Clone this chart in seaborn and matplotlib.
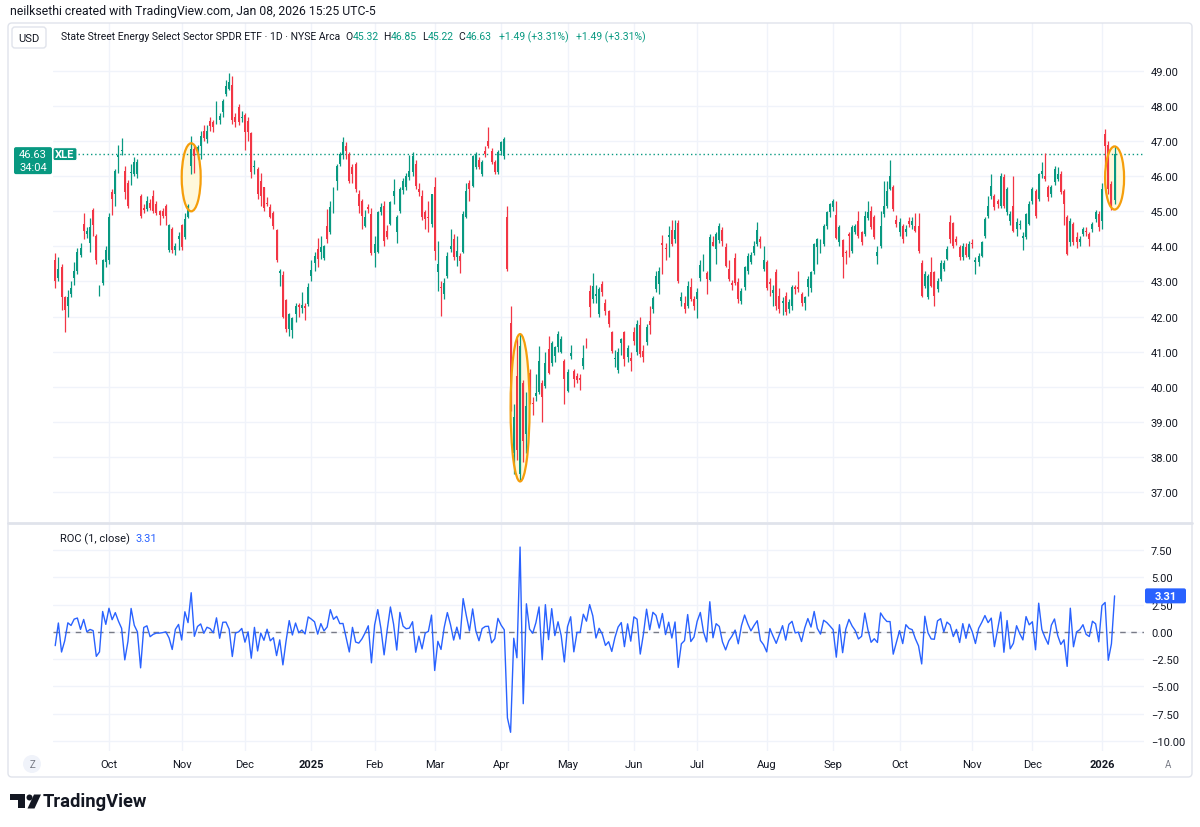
import numpy as np
import pandas as pd
import seaborn as sns
import matplotlib.pyplot as plt
from matplotlib.patches import Ellipse, FancyBboxPatch, Circle, Polygon
from matplotlib.lines import Line2D
from matplotlib.transforms import Affine2D
from matplotlib.ticker import FuncFormatter

# daily candles, XLE, Sep 6 2024 - Jan 8 2026 (NYSE sessions)
start, end = '2024-09-06', '2026-01-08'
holidays = ['2024-11-28', '2024-12-25', '2025-01-01', '2025-01-09', '2025-01-20',
            '2025-02-17', '2025-04-18', '2025-05-26', '2025-06-19', '2025-07-04',
            '2025-09-01', '2025-11-27', '2025-12-25', '2026-01-01']
prev_close = 43.55

opens = [
    43.6, 43.1, 43.4, 42.55, 42.3, 42.65, 43.1, 43.3, 43.75, 44.65,
    44.35, 44.1, 45.05, 44.3, 42.75, 42.95, 43.55, 43.6, 45.55, 45.5,
    46.55, 46.72, 46.15, 45.8, 46.1, 46.05, 46.05, 45.45, 45.1, 45.08,
    45.25, 45.45, 45.2, 45.0, 45.0, 45.15, 43.9, 44.5, 43.9, 44.2,
    44.6, 44.26, 44.85, 46.3, 46.78, 46.6, 46.85, 47.3, 47.05, 47.58,
    47.55, 47.73, 47.6, 47.82, 48.34, 48.5, 48.6, 47.7, 47.96, 47.65,
    47.75, 47.58, 47.23, 46.25, 46.2, 45.87, 45.68, 45.25, 45.12, 44.95,
    44.47, 43.25, 43.18, 42.48, 41.64, 41.62, 42.07, 42.33, 42.25, 42.3,
    42.36, 43.17, 43.54, 43.92, 43.85, 43.68, 44.59, 44.4, 45.02, 45.87,
    46.35, 46.61, 46.85, 46.63, 46.25, 46.35, 45.49, 45.3, 44.59, 45.12,
    44.92, 43.8, 43.83, 44.97, 45.16, 44.45, 44.64, 45.44, 44.42, 45.0,
    45.62, 45.68, 45.97, 46.11, 46.35, 45.63, 45.44, 44.97, 44.85, 44.64,
    45.68, 43.27, 42.85, 42.64, 43.16, 43.93, 44.21, 43.69, 43.73, 43.83,
    44.83, 45.82, 45.73, 46.26, 46.45, 46.07, 46.73, 47.01, 46.73, 46.4,
    46.11, 46.73, 46.59, 44.83, 41.83, 38.12, 40.3, 37.5, 40.1, 38.65,
    40.4, 39.55, 39.74, 39.84, 40.12, 40.02, 41.07, 40.69, 40.88, 41.12,
    41.0, 40.74, 39.89, 40.88, 40.45, 40.3, 40.25, 40.59, 41.3, 42.74,
    42.5, 42.6, 42.07, 42.92, 42.4, 42.16, 41.55, 40.8, 40.48, 41.26,
    41.55, 40.84, 40.82, 41.55, 40.99, 41.76, 41.03, 41.28, 41.88, 42.21,
    42.78, 42.93, 44.11, 43.95, 44.26, 44.47, 44.2, 44.68, 42.45, 42.4,
    42.3, 42.83, 42.5, 42.5, 43.09, 43.35, 43.23, 43.05, 44.13, 43.93,
    44.19, 44.47, 43.97, 43.37, 42.95, 43.66, 42.99, 42.45, 42.83, 43.3,
    43.55, 43.8, 44.07, 44.21, 43.35, 43.56, 42.99, 42.67, 43.26, 42.59,
    42.4, 42.6, 42.21, 42.31, 42.83, 42.83, 42.64, 42.4, 42.83, 42.8,
    43.3, 43.97, 44.02, 44.07, 44.59, 44.97, 45.11, 44.89, 44.12, 44.18,
    43.83, 44.35, 43.88, 44.4, 44.73, 44.4, 44.35, 44.8, 45.02, 44.83,
    43.74, 44.0, 44.92, 45.16, 45.64, 45.68, 44.76, 44.42, 44.59, 44.42,
    44.73, 44.6, 44.59, 44.59, 43.54, 42.88, 42.55, 43.26, 43.26, 42.78,
    43.07, 43.35, 43.64, 44.69, 44.66, 44.21, 43.97, 43.69, 43.97, 43.69,
    44.11, 43.55, 43.56, 43.74, 44.3, 44.88, 45.44, 45.44, 45.3, 45.16,
    45.97, 44.97, 44.73, 45.16, 44.5, 44.6, 44.23, 44.26, 44.64, 45.3,
    45.59, 45.35, 46.07, 46.02, 45.68, 45.49, 45.83, 45.92, 46.07, 45.59,
    44.83, 44.12, 44.64, 44.26, 44.12, 44.35, 44.45, 44.35, 44.5, 44.78,
    44.92, 44.73, 47.2, 46.9, 45.78, 45.32,
]
highs = [
    43.8, 43.7, 43.5, 42.6, 42.75, 43.0, 43.55, 43.95, 44.1, 44.95,
    44.55, 44.8, 45.1, 44.35, 42.9, 43.65, 44.0, 44.95, 45.65, 46.2,
    46.9, 47.1, 46.3, 45.9, 46.35, 46.55, 46.5, 45.5, 45.2, 45.45,
    45.35, 45.6, 45.3, 45.05, 45.1, 45.2, 44.65, 44.55, 44.1, 44.4,
    44.65, 44.95, 45.2, 47.14, 46.9, 46.9, 47.3, 47.45, 47.45, 47.7,
    47.6, 48.15, 47.8, 48.2, 48.75, 48.95, 48.85, 47.8, 48.05, 47.85,
    47.8, 47.7, 47.25, 46.45, 46.25, 46.1, 45.7, 45.4, 45.2, 45.0,
    44.5, 43.35, 43.3, 42.5, 42.1, 42.0, 42.4, 42.4, 42.7, 42.4,
    42.97, 43.6, 43.85, 44.25, 44.3, 44.05, 45.06, 45.3, 45.7, 46.35,
    46.7, 47.12, 46.98, 46.7, 46.35, 46.4, 45.6, 45.35, 45.05, 45.2,
    45.1, 44.3, 45.0, 45.25, 45.3, 44.6, 45.3, 45.92, 44.9, 45.7,
    45.95, 46.1, 46.6, 46.68, 46.45, 45.8, 45.6, 45.05, 45.3, 45.5,
    45.97, 44.16, 43.0, 43.1, 43.85, 44.5, 44.36, 44.29, 43.8, 45.0,
    45.8, 45.9, 46.6, 46.7, 46.55, 46.45, 46.85, 47.4, 46.8, 46.45,
    46.75, 47.0, 47.12, 45.16, 42.3, 39.5, 41.4, 41.5, 40.2, 39.85,
    40.5, 39.7, 40.35, 41.15, 40.2, 41.0, 41.45, 41.3, 41.15, 41.6,
    41.45, 40.8, 40.5, 41.2, 40.5, 40.4, 40.35, 41.2, 41.4, 42.9,
    43.25, 42.9, 42.85, 43.0, 42.5, 42.2, 41.6, 41.05, 41.1, 41.4,
    41.6, 41.2, 41.0, 41.7, 41.9, 42.0, 41.2, 41.8, 42.3, 42.6,
    43.3, 43.4, 44.33, 44.1, 44.57, 44.75, 44.75, 44.75, 42.7, 42.6,
    43.0, 43.1, 42.6, 42.8, 43.6, 43.78, 43.3, 44.35, 44.3, 44.4,
    44.68, 44.55, 44.1, 43.6, 43.05, 43.8, 43.1, 42.8, 43.45, 43.8,
    43.85, 44.15, 44.7, 44.3, 44.0, 43.6, 43.1, 42.9, 43.35, 42.8,
    42.55, 42.7, 42.5, 42.9, 42.9, 43.3, 42.7, 42.6, 43.15, 43.3,
    44.1, 44.25, 44.2, 44.65, 45.0, 45.25, 45.35, 45.3, 44.6, 44.2,
    43.9, 44.4, 44.6, 44.65, 45.0, 44.45, 45.0, 45.3, 45.15, 44.9,
    44.0, 45.0, 45.85, 45.85, 46.45, 45.75, 44.9, 44.8, 44.65, 44.6,
    44.85, 44.85, 44.95, 44.95, 43.6, 43.3, 43.2, 43.7, 43.3, 43.1,
    43.6, 43.6, 44.0, 44.9, 44.7, 44.3, 44.05, 44.1, 44.1, 44.15,
    44.2, 43.7, 43.8, 44.15, 44.85, 45.45, 46.05, 45.5, 45.35, 46.1,
    46.05, 45.7, 45.0, 46.0, 44.8, 44.75, 44.4, 44.95, 45.3, 45.7,
    45.65, 46.1, 46.4, 46.65, 45.75, 45.75, 46.3, 46.25, 46.15, 45.65,
    44.9, 44.8, 44.7, 44.4, 44.3, 44.55, 44.55, 44.4, 44.7, 45.05,
    45.0, 45.8, 47.35, 47.0, 45.85, 46.85,
]
lows = [
    42.8, 43.0, 42.2, 41.55, 42.0, 42.55, 42.9, 43.2, 43.7, 44.2,
    44.25, 43.85, 44.3, 43.5, 42.6, 42.9, 43.4, 43.5, 44.9, 45.15,
    46.1, 46.6, 45.35, 45.1, 45.75, 46.0, 45.95, 44.8, 44.95, 45.0,
    45.05, 44.95, 44.9, 44.62, 44.8, 44.6, 43.85, 43.8, 43.75, 43.9,
    43.9, 44.2, 44.8, 46.06, 46.1, 46.5, 46.5, 47.0, 46.95, 47.3,
    47.25, 47.5, 47.5, 47.7, 48.3, 48.45, 47.5, 47.4, 47.45, 47.55,
    46.75, 47.0, 45.95, 46.05, 45.35, 45.15, 45.0, 45.15, 44.8, 44.5,
    43.55, 42.86, 41.95, 41.55, 41.45, 41.38, 41.85, 42.0, 42.1, 41.9,
    42.3, 43.0, 43.3, 43.4, 43.65, 43.6, 44.1, 44.35, 44.95, 45.62,
    46.3, 46.5, 46.5, 45.8, 45.8, 45.55, 44.95, 44.5, 44.55, 44.95,
    43.75, 43.4, 43.8, 44.9, 44.0, 44.2, 44.6, 45.2, 44.1, 44.95,
    45.5, 45.6, 45.9, 46.0, 45.65, 45.45, 44.75, 44.5, 44.4, 44.55,
    43.6, 42.73, 42.03, 42.5, 43.1, 43.85, 43.6, 43.45, 43.25, 43.8,
    44.8, 45.3, 45.7, 46.2, 46.2, 46.0, 46.55, 46.8, 46.35, 46.05,
    46.05, 46.6, 46.5, 43.3, 39.3, 37.5, 37.9, 37.3, 37.85, 38.1,
    39.5, 39.2, 39.6, 39.8, 39.0, 39.95, 40.35, 40.6, 40.7, 41.0,
    40.95, 39.5, 39.85, 40.8, 40.0, 40.1, 39.9, 40.5, 41.1, 42.0,
    42.4, 42.4, 42.0, 42.6, 42.05, 41.7, 40.95, 40.55, 40.4, 40.9,
    40.6, 40.7, 40.45, 41.2, 40.9, 40.85, 40.7, 41.2, 41.5, 42.1,
    42.7, 42.65, 43.2, 43.6, 43.7, 44.0, 44.1, 42.95, 42.3, 42.1,
    42.25, 42.45, 42.2, 41.95, 43.0, 43.3, 42.65, 43.0, 44.0, 43.5,
    44.1, 44.0, 43.4, 43.0, 42.75, 42.9, 42.4, 42.35, 42.75, 43.2,
    43.5, 43.75, 44.0, 43.95, 43.3, 42.75, 42.6, 42.3, 42.2, 42.1,
    42.05, 42.05, 42.1, 42.2, 42.65, 42.7, 42.3, 42.2, 42.6, 42.7,
    43.2, 43.5, 43.8, 44.0, 44.5, 44.85, 45.0, 44.2, 44.0, 43.1,
    43.5, 43.7, 43.8, 44.35, 44.25, 44.05, 44.3, 44.75, 44.5, 44.2,
    43.5, 43.95, 44.85, 45.1, 45.6, 45.0, 44.55, 44.3, 44.1, 44.3,
    44.55, 44.5, 44.4, 43.8, 42.55, 42.8, 42.5, 42.85, 42.3, 42.7,
    43.0, 43.3, 43.6, 44.1, 43.95, 44.05, 43.6, 43.6, 43.7, 43.65,
    43.95, 43.2, 43.45, 43.7, 44.25, 44.8, 45.35, 45.05, 45.1, 45.1,
    45.1, 44.9, 44.6, 44.4, 44.3, 44.5, 43.9, 44.2, 44.6, 45.2,
    44.8, 45.3, 45.95, 45.85, 45.3, 45.4, 45.75, 45.85, 45.5, 44.6,
    43.75, 44.0, 44.05, 43.95, 44.0, 44.3, 44.3, 44.0, 44.4, 44.7,
    44.45, 44.5, 46.3, 45.5, 45.05, 45.22,
]
closes = [
    43.0, 43.35, 42.55, 42.2, 42.55, 42.8, 43.3, 43.85, 43.95, 44.45,
    44.45, 44.55, 44.6, 43.6, 42.8, 43.6, 43.9, 44.85, 45.35, 46.15,
    46.6, 46.75, 45.55, 45.15, 46.12, 46.4, 46.4, 44.87, 45.05, 45.3,
    45.1, 45.0, 44.95, 44.9, 44.87, 44.87, 44.62, 43.9, 44.0, 44.3,
    43.97, 44.78, 45.16, 46.78, 46.59, 46.82, 47.16, 47.1, 47.3, 47.44,
    47.4, 48.01, 47.73, 48.15, 48.58, 48.7, 47.6, 47.55, 47.55, 47.7,
    47.25, 47.25, 46.11, 46.3, 45.49, 45.44, 45.09, 45.2, 44.83, 44.59,
    43.62, 43.3, 41.99, 41.64, 42.07, 41.95, 42.29, 42.26, 42.33, 42.25,
    42.83, 43.33, 43.73, 43.64, 43.97, 44.01, 44.21, 45.11, 45.63, 46.28,
    46.63, 46.99, 46.73, 45.87, 46.06, 45.63, 45.16, 44.87, 44.83, 45.08,
    43.8, 44.07, 44.97, 45.11, 44.16, 44.26, 45.27, 45.59, 44.83, 45.63,
    45.87, 46.0, 46.16, 46.59, 45.72, 45.54, 44.83, 44.78, 44.8, 45.49,
    43.88, 43.5, 42.8, 42.97, 43.73, 44.02, 43.69, 43.88, 43.59, 44.92,
    45.59, 45.63, 46.59, 46.64, 46.26, 46.4, 46.63, 46.87, 46.4, 46.11,
    46.68, 46.97, 47.06, 43.35, 39.36, 39.13, 38.2, 41.17, 38.46, 39.45,
    39.55, 39.5, 39.83, 40.74, 39.7, 40.69, 40.4, 41.26, 41.12, 41.5,
    41.36, 40.22, 40.41, 40.97, 40.22, 40.2, 40.18, 40.83, 41.23, 42.26,
    42.88, 42.64, 42.78, 42.69, 42.16, 41.78, 41.03, 40.82, 41.0, 41.35,
    40.79, 41.09, 40.74, 41.3, 41.78, 40.93, 40.84, 41.69, 41.77, 42.52,
    43.16, 43.31, 44.04, 43.93, 44.32, 44.07, 44.47, 43.02, 42.55, 42.21,
    42.88, 42.5, 42.3, 42.71, 43.47, 43.47, 43.07, 44.26, 44.02, 44.35,
    44.57, 44.16, 43.43, 43.07, 42.9, 42.97, 42.5, 42.74, 43.4, 43.72,
    43.76, 44.02, 44.47, 44.12, 43.6, 42.8, 42.93, 42.76, 42.31, 42.21,
    42.45, 42.13, 42.42, 42.83, 42.79, 42.78, 42.4, 42.55, 43.07, 43.26,
    44.07, 44.21, 44.12, 44.59, 44.97, 45.21, 45.3, 44.25, 44.54, 43.69,
    43.8, 44.3, 44.54, 44.59, 44.3, 44.12, 44.88, 44.97, 44.54, 44.26,
    43.83, 44.59, 45.16, 45.59, 46.02, 45.08, 44.64, 44.69, 44.21, 44.5,
    44.64, 44.73, 44.45, 43.88, 42.59, 43.2, 43.16, 42.88, 42.59, 43.02,
    43.54, 43.54, 43.93, 44.21, 44.02, 44.12, 43.69, 44.02, 43.76, 44.07,
    44.07, 43.6, 43.74, 44.12, 44.78, 45.16, 45.73, 45.11, 45.2, 46.02,
    45.16, 45.63, 44.92, 44.45, 44.7, 44.63, 44.3, 44.92, 45.21, 45.63,
    44.88, 46.06, 46.16, 45.92, 45.4, 45.68, 46.22, 46.07, 45.54, 45.21,
    43.78, 44.73, 44.12, 44.12, 44.21, 44.5, 44.4, 44.21, 44.64, 44.97,
    44.56, 45.63, 46.86, 45.64, 45.14, 46.63,
]

header_text = 'neilksethi created with TradingView.com, Jan 08, 2026 15:25 UTC-5'
title_text = 'State Street Energy Select Sector SPDR ETF \u00b7 1D \u00b7 NYSE Arca'
ohlc_letters = ['O', 'H', 'L', 'C']
ohlc_values = ['45.32', '46.85', '45.22', '46.63']
change_text = '+1.49 (+3.31%)'
roc_title = 'ROC (1, close)'
roc_value_text = '3.31'
price_label = '46.63'
countdown = '34:04'
symbol = 'XLE'
price_ticks = [37, 38, 39, 40, 41, 42, 43, 44, 45, 46, 47, 48, 49]
roc_ticks = [-10, -7.5, -5, -2.5, 0, 2.5, 5, 7.5]
# sessions circled on the chart, with a height trim in price units
circled = [('2024-11-05', '2024-11-06', -0.4), ('2025-04-07', '2025-04-10', 0.0),
           ('2026-01-07', '2026-01-08', 0.0)]

dates = pd.bdate_range(start, end)
dates = dates[~dates.isin(pd.to_datetime(holidays))]
df = pd.DataFrame({'open': opens, 'high': highs, 'low': lows, 'close': closes}, index=dates)
df['x'] = np.arange(len(df))
prior = np.r_[prev_close, df['close'].values[:-1]]
df['roc'] = (df['close'].values - prior) / prior * 100

GREEN, RED, BLUE = '#089981', '#f23645', '#2962ff'
DARK, GRID, BORDER = '#131722', '#f0f3fa', '#e0e3eb'

sns.set_theme(style='white')
plt.rcParams['font.family'] = ['Roboto', 'DejaVu Sans']

W, H = 1200, 828
fig = plt.figure(figsize=(W / 100, H / 100), dpi=100)
px = Affine2D().scale(1 / W, -1 / H).translate(0, 1) + fig.transFigure

ax = fig.add_axes([53 / W, 1 - 523 / H, 1091 / W, 499 / H])
ax_roc = fig.add_axes([53 / W, 1 - 752 / H, 1091 / W, 228 / H])

# month ticks at the first session of each month
month_pos, month_lab = [], []
for i in range(1, len(df)):
    if dates[i].month != dates[i - 1].month:
        month_pos.append(i)
        month_lab.append(str(dates[i].year) if dates[i].month == 1 else dates[i].strftime('%b'))

# candles
up = df['close'] >= df['open']
colors = np.where(up, GREEN, RED)
ax.vlines(df['x'], df['low'], df['high'], colors=colors, lw=0.9, zorder=3)
body_lo = np.minimum(df['open'], df['close'])
body_h = np.maximum((df['close'] - df['open']).abs(), 0.03)
ax.bar(df['x'], body_h, bottom=body_lo, width=0.62, color=colors, lw=0, zorder=3)

last = df['close'].iloc[-1]
ax.axhline(last, color=GREEN, lw=1, ls=(0, (1, 2)), zorder=2)

for d0, d1, trim in circled:
    win = df.loc[d0:d1]
    cx = win['x'].mean() + 0.5
    lo, hi = win['low'].min(), win['high'].max()
    cy, hgt = (lo + hi) / 2, hi - lo + trim
    ax.add_patch(Ellipse((cx, cy), 6, hgt, fc='#fff6cc', ec='none', alpha=0.7, zorder=1))
    ax.add_patch(Ellipse((cx, cy), 6, hgt, fill=False, ec='#f59e0b', lw=1.6, zorder=4))

ax.set_xlim(-0.7, 344.3)
ax.set_ylim(36.144, 50.368)
ax.set_yticks(price_ticks)
ax.yaxis.set_major_formatter(FuncFormatter(lambda v, _: f'{v:.2f}'))
ax.set_xticks(month_pos)
ax.tick_params(axis='x', length=0, labelbottom=False)

# ROC pane
sns.lineplot(x=df['x'], y=df['roc'], ax=ax_roc, color=BLUE, lw=1, zorder=3)
ax_roc.axhline(0, color='#787b86', lw=1, ls=(0, (4, 4)), zorder=2)
ax_roc.set_xlim(-0.7, 344.3)
ax_roc.set_ylim(-10.92, 9.98)
ax_roc.set_yticks(roc_ticks)
ax_roc.yaxis.set_major_formatter(FuncFormatter(lambda v, _: f'{v:.2f}'.replace('-', '\u2212')))
ax_roc.set_xticks(month_pos)
ax_roc.set_xticklabels(month_lab)
ax_roc.set_xlabel('')
ax_roc.set_ylabel('')
ax_roc.tick_params(axis='x', length=0, pad=6, labelsize=8, labelcolor=DARK)
for lbl in ax_roc.get_xticklabels():
    if lbl.get_text().isdigit():
        lbl.set_fontweight('bold')

for a in (ax, ax_roc):
    a.yaxis.tick_right()
    a.tick_params(axis='y', length=0, pad=5, labelsize=8, labelcolor=DARK)
    a.grid(True, color=GRID, lw=1)
    a.set_axisbelow(True)
    for s in a.spines.values():
        s.set_visible(False)

# frame and pane separator
fig.add_artist(FancyBboxPatch((8, 24), 1184, 754, boxstyle='round,pad=0,rounding_size=4',
                              transform=px, fill=False, ec=BORDER, lw=1))
fig.add_artist(Line2D([8, 1192], [523.5, 523.5], transform=px, color=BORDER, lw=2))

renderer = fig.canvas.get_renderer()


def put(x, y, s, **kw):
    return fig.text(x, y, s, transform=px, va='center', **kw)


def wpx(t):
    return t.get_window_extent(renderer).width


t = put(10, 12, header_text, fontsize=9, color=DARK)
t.set_fontsize(9 * 367 / wpx(t))

fig.add_artist(FancyBboxPatch((12, 28), 34, 21, boxstyle='round,pad=0,rounding_size=3',
                              transform=px, fc='white', ec=BORDER, lw=1))
put(29, 38.5, 'USD', fontsize=8, color=DARK, ha='center')

t = put(61, 37, title_text, fontsize=9, color=DARK)
fs = 9 * 279 / wpx(t)
t.set_fontsize(fs)
# legend values laid out one after another
xc = 61 + wpx(t) + 5
for letter, val in zip(ohlc_letters, ohlc_values):
    a = put(xc, 37, letter, fontsize=fs, color=DARK)
    b = put(xc + wpx(a), 37, val, fontsize=fs, color=GREEN)
    xc += wpx(a) + wpx(b) + 5
xc += 3
for _ in range(2):
    b = put(xc, 37, change_text, fontsize=fs, color=GREEN)
    xc += wpx(b) + 7

# last price tag on the left
yl = H - ax.transData.transform((0, last))[1]
fig.add_artist(FancyBboxPatch((14, yl - 7), 38, 27, boxstyle='round,pad=0,rounding_size=2',
                              transform=px, fc=GREEN, ec='none'))
put(33, yl, price_label, fontsize=8, color='white', ha='center')
put(33, yl + 13, countdown, fontsize=8, color='white', ha='center')
fig.add_artist(FancyBboxPatch((53, yl - 6.5), 24, 13, boxstyle='round,pad=0,rounding_size=2',
                              transform=px, fc=GREEN, ec='white', lw=0.8))
put(65, yl, symbol, fontsize=8, color='white', ha='center', weight='bold')

# ROC header and last value tag
t = put(60, 539, roc_title, fontsize=8, color=DARK)
put(60 + wpx(t) + 6, 539, roc_value_text, fontsize=8, color=BLUE)
yr = H - ax_roc.transData.transform((0, df['roc'].iloc[-1]))[1]
fig.add_artist(FancyBboxPatch((1145, yr - 7.5), 41, 15, boxstyle='round,pad=0,rounding_size=2',
                              transform=px, fc=BLUE, ec='none'))
put(1165.5, yr, roc_value_text, fontsize=8, color='white', ha='center', weight='bold')

# time axis buttons
fig.add_artist(Circle((32, 765), 9, transform=px, fc=GRID, ec='none'))
put(32, 765, 'Z', fontsize=7, color='#787b86', ha='center')
put(1168, 765, 'A', fontsize=7, color='#787b86', ha='center')

# TradingView logo
fig.add_artist(Polygon([(10, 795.5), (25, 795.5), (25, 809.5), (18, 809.5), (18, 801.5), (10, 801.5)],
                       closed=True, transform=px, fc=DARK, ec='none'))
fig.add_artist(Circle((29.5, 798.5), 3, transform=px, fc=DARK, ec='none'))
fig.add_artist(Polygon([(34, 795.5), (41, 795.5), (34.5, 809.5), (27.5, 809.5)],
                       closed=True, transform=px, fc=DARK, ec='none'))
t = put(43, 802, 'TradingView', fontsize=12.5, color=DARK, weight='bold')
t.set_fontsize(12.5 * 104 / wpx(t))

fig.savefig('out.png', dpi=100, facecolor='white')
